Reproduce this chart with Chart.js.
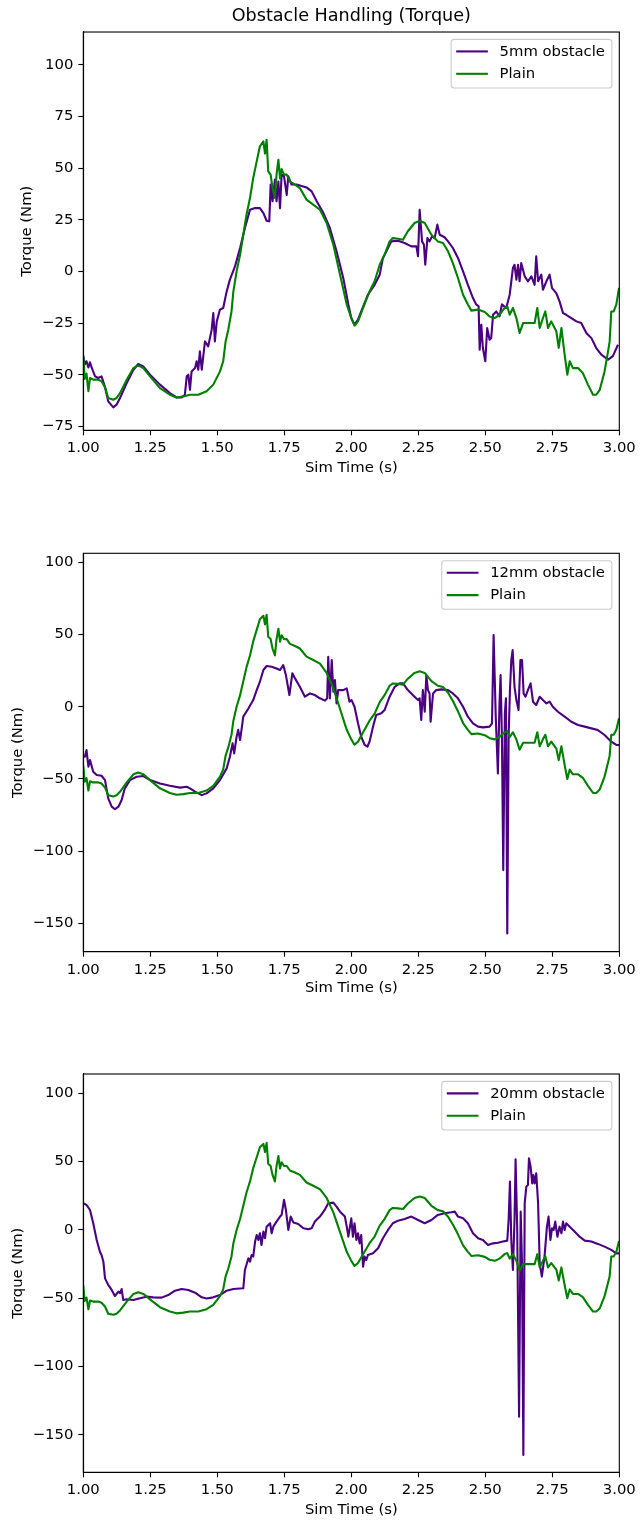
<!DOCTYPE html>
<html>
<head>
<meta charset="utf-8">
<title>Obstacle Handling (Torque)</title>
<script src="https://cdn.jsdelivr.net/npm/chart.js@4.4.1/dist/chart.umd.min.js"></script>
<style>
  body { margin: 0; background: #fff; }
  .panel { position: absolute; left: 0; width: 641px; height: 508px; }
</style>
</head>
<body>
<div class="panel" style="top:0px"><canvas id="torque5mm" width="641" height="508"></canvas></div>
<div class="panel" style="top:508px"><canvas id="torque12mm" width="641" height="508"></canvas></div>
<div class="panel" style="top:1016px"><canvas id="torque20mm" width="641" height="508"></canvas></div>

<script>
// axis ticks
const xTicks = [1, 1.25, 1.5, 1.75, 2, 2.25, 2.5, 2.75, 3];
const yTicksTop = [-75, -50, -25, 0, 25, 50, 75, 100];
const yTicksWide = [-150, -100, -50, 0, 50, 100];

// plain run (same in every panel)
const timePlain = [
  1.000, 1.005, 1.012, 1.019, 1.025, 1.037, 1.056, 1.068, 1.081, 1.093,
  1.112, 1.124, 1.137, 1.162, 1.187, 1.205, 1.224, 1.249, 1.286, 1.323,
  1.348, 1.373, 1.398, 1.429, 1.460, 1.485, 1.510, 1.522, 1.531, 1.541,
  1.553, 1.560, 1.572, 1.585, 1.597, 1.609, 1.622, 1.634, 1.647, 1.659,
  1.672, 1.678, 1.684, 1.690, 1.699, 1.706, 1.715, 1.721, 1.728, 1.734,
  1.740, 1.749, 1.759, 1.771, 1.790, 1.808, 1.833, 1.858, 1.883, 1.908,
  1.933, 1.958, 1.983, 2.000, 2.012, 2.025, 2.044, 2.068, 2.087, 2.106,
  2.124, 2.143, 2.155, 2.174, 2.193, 2.211, 2.236, 2.255, 2.274, 2.299,
  2.323, 2.342, 2.361, 2.379, 2.398, 2.417, 2.435, 2.448, 2.473, 2.498,
  2.516, 2.535, 2.553, 2.572, 2.582, 2.591, 2.603, 2.616, 2.628, 2.641,
  2.665, 2.684, 2.694, 2.703, 2.715, 2.724, 2.734, 2.746, 2.765, 2.774,
  2.784, 2.796, 2.806, 2.815, 2.827, 2.846, 2.864, 2.883, 2.902, 2.914,
  2.927, 2.945, 2.958, 2.964, 2.970, 2.979, 2.989, 2.999
];
const torquePlain = [
  -40.5, -52.0, -49.5, -58.0, -51.6, -52.4, -52.4, -53.2, -56.0, -61.3,
  -62.1, -61.3, -58.9, -52.4, -46.8, -45.5, -46.8, -50.8, -56.5, -59.7,
  -61.0, -60.5, -59.7, -59.7, -58.0, -54.8, -48.4, -43.5, -33.9, -28.2,
  -19.4, -9.7, 0.0, 8.0, 17.7, 27.4, 35.5, 45.2, 53.2, 60.5,
  62.9, 57.0, 63.7, 48.4, 46.8, 40.3, 35.5, 46.8, 54.0, 45.0,
  49.5, 46.8, 46.8, 43.5, 42.0, 40.3, 34.7, 32.3, 29.8, 23.4,
  12.9, -1.6, -16.0, -22.6, -26.3, -24.2, -17.7, -9.7, -4.8, 3.2,
  8.0, 14.5, 16.1, 15.8, 15.3, 19.4, 23.4, 24.5, 23.4, 17.7,
  14.5, 13.7, 9.7, 4.0, -3.2, -11.3, -16.0, -19.0, -18.5, -19.7,
  -21.8, -22.6, -21.0, -17.7, -16.9, -21.0, -17.7, -22.6, -29.8, -25.0,
  -25.0, -25.0, -17.7, -27.4, -22.6, -19.4, -27.4, -24.2, -29.0, -37.0,
  -27.4, -40.3, -50.0, -43.5, -46.8, -46.8, -49.2, -54.8, -59.7, -59.7,
  -57.3, -48.4, -38.7, -33.9, -19.4, -19.4, -16.0, -8.0
];

// 5mm obstacle
const time5mm = [
  1.000, 1.006, 1.012, 1.019, 1.025, 1.031, 1.044, 1.056, 1.068, 1.081,
  1.093, 1.112, 1.124, 1.137, 1.162, 1.187, 1.205, 1.224, 1.249, 1.286,
  1.323, 1.348, 1.367, 1.379, 1.386, 1.392, 1.398, 1.404, 1.417, 1.423,
  1.429, 1.435, 1.442, 1.454, 1.466, 1.479, 1.485, 1.491, 1.498, 1.510,
  1.522, 1.535, 1.547, 1.566, 1.585, 1.603, 1.622, 1.641, 1.659, 1.672,
  1.684, 1.694, 1.699, 1.706, 1.715, 1.721, 1.728, 1.734, 1.740, 1.749,
  1.759, 1.765, 1.777, 1.796, 1.833, 1.852, 1.871, 1.896, 1.920, 1.945,
  1.970, 1.989, 2.000, 2.012, 2.025, 2.037, 2.062, 2.087, 2.106, 2.118,
  2.131, 2.149, 2.174, 2.199, 2.224, 2.243, 2.249, 2.255, 2.264, 2.271,
  2.276, 2.284, 2.292, 2.301, 2.311, 2.321, 2.330, 2.348, 2.361, 2.379,
  2.398, 2.417, 2.435, 2.454, 2.466, 2.475, 2.479, 2.485, 2.491, 2.500,
  2.507, 2.516, 2.522, 2.529, 2.541, 2.553, 2.562, 2.578, 2.591, 2.603,
  2.609, 2.616, 2.622, 2.628, 2.634, 2.647, 2.659, 2.672, 2.684, 2.690,
  2.697, 2.709, 2.715, 2.728, 2.740, 2.749, 2.765, 2.777, 2.790, 2.802,
  2.821, 2.840, 2.858, 2.877, 2.896, 2.914, 2.933, 2.958, 2.976, 2.995
];
const torque5mm = [
  -41.0, -45.0, -43.5, -46.5, -44.0, -46.5, -50.8, -51.6, -50.8, -56.0,
  -62.9, -65.8, -64.5, -61.3, -54.0, -47.6, -44.8, -46.0, -50.0, -54.8,
  -58.9, -61.0, -61.0, -59.7, -50.8, -50.0, -57.3, -48.4, -46.8, -43.5,
  -47.6, -38.7, -47.6, -33.9, -36.3, -28.2, -20.2, -33.9, -24.2, -18.5,
  -17.7, -9.7, -4.0, 2.4, 11.3, 21.0, 29.8, 30.6, 30.6, 28.2,
  24.5, 24.2, 42.0, 33.9, 44.4, 33.9, 43.5, 30.6, 46.8, 46.0,
  37.0, 46.0, 42.0, 42.0, 40.6, 38.7, 33.9, 28.2, 21.0, 9.7,
  -3.2, -16.0, -22.6, -25.8, -23.4, -19.4, -11.3, -6.5, -1.6, 6.5,
  9.7, 14.5, 14.8, 13.7, 12.1, 12.1, 7.3, 29.8, 14.5, 12.9,
  3.2, 16.1, 14.5, 16.9, 16.1, 22.6, 17.7, 16.5, 14.5, 11.3,
  6.5, 0.0, -6.5, -12.9, -16.0, -16.9, -37.9, -25.8, -37.1, -43.5,
  -27.4, -33.1, -32.3, -21.0, -19.4, -21.8, -16.0, -17.7, -11.3, 1.6,
  3.2, -4.0, 3.2, -4.8, 4.0, -2.4, -4.8, -2.4, -6.5, 7.3,
  -4.8, -1.6, -8.9, -4.8, -1.6, -8.1, -10.5, -14.5, -20.2, -21.0,
  -22.6, -24.2, -25.0, -29.8, -32.3, -37.1, -40.3, -42.7, -41.0, -35.5
];

// 12mm obstacle
const time12mm = [
  1.000, 1.006, 1.012, 1.019, 1.025, 1.037, 1.050, 1.068, 1.081, 1.093,
  1.106, 1.118, 1.131, 1.143, 1.155, 1.174, 1.199, 1.224, 1.249, 1.286,
  1.323, 1.361, 1.386, 1.398, 1.417, 1.442, 1.460, 1.485, 1.510, 1.535,
  1.547, 1.557, 1.563, 1.572, 1.578, 1.585, 1.597, 1.616, 1.634, 1.647,
  1.659, 1.672, 1.684, 1.703, 1.721, 1.734, 1.746, 1.756, 1.769, 1.780,
  1.790, 1.808, 1.827, 1.846, 1.864, 1.883, 1.902, 1.910, 1.914, 1.920,
  1.927, 1.933, 1.939, 1.945, 1.951, 1.970, 1.983, 1.993, 2.001, 2.012,
  2.025, 2.037, 2.050, 2.060, 2.068, 2.081, 2.093, 2.112, 2.124, 2.143,
  2.162, 2.180, 2.193, 2.211, 2.236, 2.249, 2.255, 2.261, 2.267, 2.274,
  2.280, 2.286, 2.292, 2.296, 2.305, 2.317, 2.336, 2.361, 2.379, 2.398,
  2.417, 2.435, 2.454, 2.473, 2.491, 2.516, 2.525, 2.531, 2.539, 2.547,
  2.553, 2.557, 2.562, 2.567, 2.573, 2.577, 2.582, 2.587, 2.592, 2.597,
  2.602, 2.609, 2.616, 2.624, 2.631, 2.637, 2.643, 2.650, 2.659, 2.669,
  2.678, 2.690, 2.703, 2.715, 2.728, 2.740, 2.752, 2.771, 2.796, 2.821,
  2.846, 2.871, 2.896, 2.920, 2.945, 2.970, 2.989, 2.999
];
const torque12mm = [
  -34.6, -34.6, -30.0, -41.5, -36.9, -45.0, -47.3, -47.8, -50.8, -63.5,
  -69.2, -71.0, -69.2, -64.6, -56.5, -50.8, -48.5, -48.0, -50.8, -53.1,
  -54.7, -56.0, -55.4, -56.5, -58.8, -61.2, -60.0, -56.5, -50.8, -42.7,
  -34.6, -25.4, -32.3, -20.8, -16.0, -23.1, -6.9, -1.2, 4.6, 11.5,
  17.3, 25.4, 28.2, 27.7, 26.5, 25.4, 28.8, 21.9, 8.1, 23.1,
  19.6, 13.8, 6.9, 9.2, 8.1, 5.8, 4.2, 5.8, 34.6, 5.8,
  32.3, 10.4, 18.5, 2.3, 11.5, 11.5, 12.7, 3.5, 4.6, 0.0,
  -11.5, -20.8, -26.5, -27.7, -24.2, -13.8, -5.8, -4.6, -2.3, 6.9,
  13.8, 16.2, 16.2, 11.5, 6.9, 4.6, 5.8, -9.2, 11.5, -3.5,
  21.9, 11.5, 9.2, -10.4, 9.2, 11.5, 12.0, 11.5, 9.2, 5.8,
  0.0, -6.9, -11.5, -13.8, -14.3, -13.8, -11.5, 49.6, -6.9, -46.2,
  2.3, 21.9, -20.8, -113.1, -4.6, 5.8, -157.0, -20.8, 11.5, 32.3,
  39.2, 13.8, 4.6, -2.3, 32.3, 32.3, 9.2, 6.9, 11.5, 16.2,
  3.5, 1.2, 6.9, 4.6, 2.3, 3.5, 0.0, -3.5, -6.9, -10.4,
  -12.7, -13.8, -15.0, -16.2, -19.6, -24.2, -26.5, -26.5
];

// 20mm obstacle
const time20mm = [
  1.000, 1.012, 1.025, 1.037, 1.050, 1.062, 1.068, 1.075, 1.081, 1.093,
  1.106, 1.118, 1.131, 1.137, 1.143, 1.149, 1.162, 1.187, 1.211, 1.236,
  1.261, 1.292, 1.317, 1.342, 1.367, 1.392, 1.417, 1.442, 1.460, 1.485,
  1.510, 1.535, 1.560, 1.597, 1.603, 1.616, 1.622, 1.628, 1.634, 1.641,
  1.647, 1.653, 1.659, 1.665, 1.672, 1.678, 1.684, 1.697, 1.703, 1.709,
  1.721, 1.734, 1.740, 1.749, 1.756, 1.765, 1.774, 1.784, 1.802, 1.821,
  1.840, 1.852, 1.864, 1.883, 1.902, 1.914, 1.933, 1.945, 1.958, 1.976,
  1.983, 1.989, 2.000, 2.006, 2.012, 2.019, 2.025, 2.031, 2.037, 2.044,
  2.050, 2.056, 2.062, 2.081, 2.100, 2.118, 2.137, 2.155, 2.174, 2.199,
  2.224, 2.249, 2.274, 2.299, 2.323, 2.348, 2.373, 2.386, 2.398, 2.417,
  2.435, 2.454, 2.473, 2.491, 2.510, 2.529, 2.547, 2.566, 2.582, 2.587,
  2.592, 2.597, 2.603, 2.609, 2.613, 2.619, 2.626, 2.632, 2.637, 2.642,
  2.647, 2.653, 2.659, 2.663, 2.669, 2.675, 2.679, 2.684, 2.690, 2.697,
  2.703, 2.711, 2.721, 2.730, 2.736, 2.743, 2.749, 2.755, 2.761, 2.769,
  2.777, 2.784, 2.790, 2.796, 2.802, 2.815, 2.833, 2.852, 2.871, 2.896,
  2.920, 2.945, 2.970, 2.989, 2.999
];
const torque20mm = [
  19.5, 18.3, 14.6, 4.9, -7.3, -15.9, -18.3, -23.2, -35.4, -40.2,
  -43.9, -48.3, -45.1, -46.3, -43.2, -51.2, -50.7, -51.2, -50.0, -48.8,
  -49.3, -49.5, -47.6, -44.4, -43.2, -43.9, -45.9, -49.3, -50.2, -49.3,
  -47.6, -44.4, -43.2, -42.7, -29.3, -20.7, -23.2, -18.3, -19.5, -8.5,
  -3.7, -7.3, -2.4, -11.0, -1.2, -6.1, 2.4, 4.9, -2.4, 2.4,
  6.1, 9.8, 11.0, 22.0, 14.6, 0.0, 9.8, 5.4, 4.4, 1.2,
  0.5, 1.2, 6.1, 9.8, 15.1, 19.5, 20.0, 17.1, 13.4, 9.8,
  2.4, -4.9, 8.5, -4.9, 4.9, -7.3, -2.4, -9.8, -3.7, -26.8,
  -19.5, -22.0, -18.3, -17.1, -13.4, -6.1, 0.0, 4.9, 6.8, 8.0,
  9.8, 7.3, 4.9, 7.3, 11.0, 12.2, 12.9, 13.4, 9.8, 8.5,
  4.9, -2.4, -6.1, -7.3, -11.0, -9.8, -9.3, -8.5, -7.8, 7.3,
  35.4, -7.3, -29.3, 7.3, 51.7, 2.4, -136.6, 13.4, -24.4, -164.6,
  19.5, 31.7, 32.9, 52.4, 46.3, 34.1, 40.2, 34.1, 41.5, 19.5,
  -24.4, -34.1, -19.5, 2.4, 9.8, -7.3, 1.2, 0.0, 6.1, -4.9,
  2.4, -2.4, 6.1, 0.0, 4.9, 2.4, -1.2, -4.9, -7.8, -8.5,
  -10.2, -12.2, -14.6, -17.1, -17.1
];

const FONT = '"DejaVu Sans", sans-serif';
const LABEL_SIZE = 14.8;

Chart.defaults.font.family = FONT;
Chart.defaults.color = "#000";

function toPoints(t, v) {
  return t.map((x, i) => ({ x: x, y: v[i] }));
}

// matplotlib-style minus sign on negative ticks
function fmtTorque(v) {
  return v < 0 ? "\u2212" + Math.abs(v) : String(v);
}

// full box around the plot area
const axesFrame = {
  id: "axesFrame",
  afterDatasetsDraw(chart) {
    const { ctx, chartArea: a } = chart;
    ctx.save();
    ctx.strokeStyle = "#000";
    ctx.lineWidth = 1.1;
    ctx.strokeRect(a.left, a.top, a.right - a.left, a.bottom - a.top);
    ctx.restore();
  }
};

// legend box in the upper right corner of the plot
const cornerLegend = {
  id: "cornerLegend",
  afterDraw(chart) {
    const { ctx, chartArea: a } = chart;
    const sets = chart.data.datasets;
    ctx.save();
    ctx.font = LABEL_SIZE + "px " + FONT;
    const textW = Math.max(...sets.map(d => ctx.measureText(d.label).width));
    const w = 48.4 + textW + 7;
    const h = 48.6;
    const left = a.right - 7.4 - w;
    const top = a.top + 7.4;

    ctx.beginPath();
    ctx.roundRect(left, top, w, h, 3);
    ctx.fillStyle = "rgba(255,255,255,0.8)";
    ctx.fill();
    ctx.strokeStyle = "#cccccc";
    ctx.lineWidth = 1.1;
    ctx.stroke();

    sets.forEach((d, i) => {
      const y = top + 12 + i * 22.4;
      ctx.strokeStyle = d.borderColor;
      ctx.lineWidth = 2.1;
      ctx.beginPath();
      ctx.moveTo(left + 5, y);
      ctx.lineTo(left + 36.7, y);
      ctx.stroke();
      ctx.fillStyle = "#000";
      ctx.textBaseline = "middle";
      ctx.textAlign = "left";
      ctx.fillText(d.label, left + 48.4, y + 0.5);
    });
    ctx.restore();
  }
};

const panels = [
  { id: "torque5mm", label: "5mm obstacle", t: time5mm, v: torque5mm,
    yMin: -76.9, yMax: 115.8, yTicks: yTicksTop,
    padTop: 0, xAxisH: 77.7, xTitlePad: 31.4, yTitlePad: 18.7, title: true },
  { id: "torque12mm", label: "12mm obstacle", t: time12mm, v: torque12mm,
    yMin: -169.6, yMax: 106.2, yTicks: yTicksWide,
    padTop: 45.3, xAxisH: 64.3, xTitlePad: 18.8, yTitlePad: 9.5, title: false },
  { id: "torque20mm", label: "20mm obstacle", t: time20mm, v: torque20mm,
    yMin: -177.3, yMax: 114.1, yTicks: yTicksWide,
    padTop: 58, xAxisH: 51.7, xTitlePad: 5.1, yTitlePad: 9.5, title: false }
];

function renderPanel(p) {
  const axisLine = { display: true, color: "#000", width: 1.1 };
  const tickMarks = { drawOnChartArea: false, drawTicks: true, tickLength: 5, tickColor: "#000", tickWidth: 1.1 };

  new Chart(document.getElementById(p.id), {
    type: "line",
    data: {
      datasets: [
        {
          label: p.label,
          data: toPoints(p.t, p.v),
          borderColor: "#4b0082",
          borderWidth: 2.1,
          borderJoinStyle: "round",
          pointRadius: 0,
          tension: 0,
          order: 1
        },
        {
          label: "Plain",
          data: toPoints(timePlain, torquePlain),
          borderColor: "#008000",
          borderWidth: 2.1,
          borderJoinStyle: "round",
          pointRadius: 0,
          tension: 0,
          order: 0
        }
      ]
    },
    options: {
      responsive: false,
      animation: false,
      events: [],
      layout: { padding: { top: p.padTop, left: 0, right: 21.7, bottom: 0 } },
      plugins: {
        legend: { display: false },
        tooltip: { enabled: false },
        title: {
          display: p.title,
          text: "Obstacle Handling (Torque)",
          fullSize: false,
          color: "#000",
          font: { size: 17.6, weight: "normal" },
          padding: { top: 6.1, bottom: 4.8 }
        }
      },
      scales: {
        x: {
          type: "linear",
          min: 1,
          max: 3,
          afterBuildTicks: s => { s.ticks = xTicks.map(v => ({ value: v })); },
          afterFit: s => { s.height = p.xAxisH; },
          ticks: {
            callback: v => v.toFixed(2),
            autoSkip: false,
            maxRotation: 0,
            padding: 4.1,
            font: { size: LABEL_SIZE }
          },
          grid: tickMarks,
          border: axisLine,
          title: {
            display: true,
            text: "Sim Time (s)",
            font: { size: LABEL_SIZE },
            padding: { top: 0, bottom: p.xTitlePad }
          }
        },
        y: {
          min: p.yMin,
          max: p.yMax,
          afterBuildTicks: s => { s.ticks = p.yTicks.map(v => ({ value: v })); },
          afterFit: s => { s.width = 83.3; },
          ticks: {
            callback: fmtTorque,
            padding: 5,
            font: { size: LABEL_SIZE }
          },
          grid: tickMarks,
          border: axisLine,
          title: {
            display: true,
            text: "Torque (Nm)",
            font: { size: LABEL_SIZE },
            padding: { top: p.yTitlePad, bottom: 0 }
          }
        }
      }
    },
    plugins: [axesFrame, cornerLegend]
  });
}

panels.forEach(renderPanel);
</script>
</body>
</html>
